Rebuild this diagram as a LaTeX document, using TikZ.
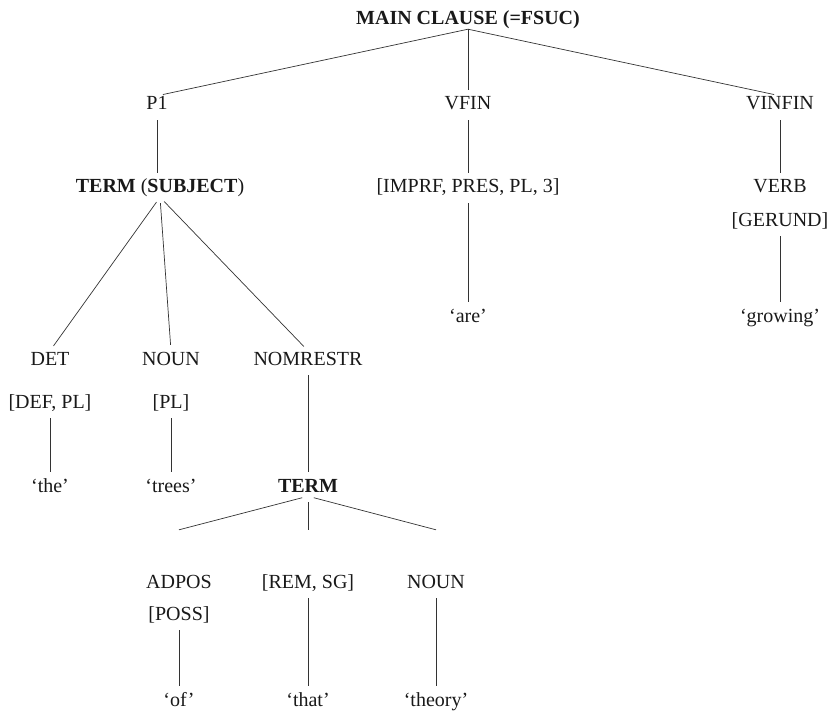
\documentclass[tikz,border=0pt]{standalone}
\usepackage{fontspec}
\setmainfont{Liberation Serif}
\usetikzlibrary{calc}
\begin{document}
\begin{tikzpicture}[x=1pt,y=-1pt,
  lab/.style={font=\fontsize{20}{24}\selectfont, inner sep=0pt, text height=14pt, text depth=4pt, anchor=base, text=black!90},
  edge/.style={line width=0.7pt, draw=black!80, shorten <=6pt, shorten >=6pt},
  rootedge/.style={line width=0.7pt, draw=black!80, shorten >=6pt},
  fanedge/.style={line width=0.7pt, draw=black!80, shorten <=6pt}]
\useasboundingbox (0,0) rectangle (835,714);
% nodes
\node[lab] (root)   at (468,25)  {\textbf{MAIN CLAUSE (=FSUC)}};
\node[lab] (p1)     at (157,110) {P1};
\node[lab] (vfin)   at (468,110) {VFIN};
\node[lab] (vinfin) at (780,110) {VINFIN};
\node[lab] (ts)     at (160,193) {\textbf{TERM} (\textbf{SUBJECT})};
\node[lab] (imprf)  at (468,193) {[IMPRF, PRES, PL, 3]};
\node[lab] (verb)   at (780,193) {VERB};
\node[lab] (gerund) at (780,226) {[GERUND]};
\node[lab] (are)    at (468,322) {‘are’};
\node[lab] (growing) at (780,322) {‘growing’};
\node[lab] (det)    at (50,365)  {DET};
\node[lab] (noun)   at (171,365) {NOUN};
\node[lab] (nomr)   at (308,365) {NOMRESTR};
\node[lab] (defpl)  at (50,408)  {[DEF, PL]};
\node[lab] (pl)     at (171,408) {[PL]};
\node[lab] (the)    at (50,492)  {‘the’};
\node[lab] (trees)  at (171,492) {‘trees’};
\node[lab] (term)   at (308,492) {\textbf{TERM}};
\node[lab] (adpos)  at (179,588) {ADPOS};
\node[lab] (remsg)  at (308,588) {[REM, SG]};
\node[lab] (noun2)  at (436,588) {NOUN};
\node[lab] (poss)   at (179,620) {[POSS]};
\node[lab] (of)     at (179,706) {‘of’};
\node[lab] (that)   at (308,706) {‘that’};
\node[lab] (theory) at (436,706) {‘theory’};
% connectors
\draw[rootedge] (root.south) -- (p1.north);
\draw[rootedge] (root.south) -- (vfin.north);
\draw[rootedge] (root.south) -- (vinfin.north);
\draw[edge] (p1.south) -- (p1.south |- ts.north);
\draw[edge] (vfin.south) -- (imprf.north);
\draw[edge] (vinfin.south) -- (verb.north);
\draw[edge] (imprf.south) -- (are.north);
\draw[edge] (gerund.south) -- (growing.north);
\draw[edge] (ts.south) -- (det.north);
\draw[edge] (ts.south) -- (noun.north);
\draw[edge] (ts.south) -- (nomr.north);
\draw[edge] (defpl.south) -- (the.north);
\draw[edge] (pl.south) -- (trees.north);
\draw[edge] (nomr.south) -- (term.north);
\draw[fanedge] (term.south) -- ($(adpos.north)+(0,-44)$);
\draw[fanedge] (term.south) -- ($(remsg.north)+(0,-44)$);
\draw[fanedge] (term.south) -- ($(noun2.north)+(0,-44)$);
\draw[edge] (poss.south) -- (of.north);
\draw[edge] (remsg.south) -- (that.north);
\draw[edge] (noun2.south) -- (theory.north);
\end{tikzpicture}
\end{document}
